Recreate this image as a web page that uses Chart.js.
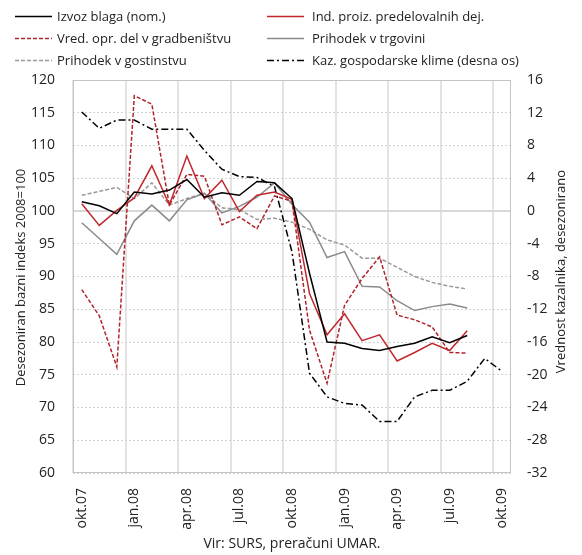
<!DOCTYPE html>
<html>
<head>
<meta charset="utf-8">
<script src="https://cdn.jsdelivr.net/npm/chart.js@4.4.1/dist/chart.umd.min.js"></script>
<style>
  html, body { margin: 0; padding: 0; background: #fff; }
  #wrap { position: relative; width: 582px; height: 555px; font-family: "Open Sans", sans-serif; }
  #c { position: absolute; left: 0; top: 0; }
  .lg { position: absolute; font-size: 13px; color: #222; white-space: nowrap; line-height: 16px; }
  .lg svg { position: absolute; left: 0; top: 2px; }
  .lg span { position: absolute; top: 0; }
</style>
</head>
<body>
<div id="wrap">
  <canvas id="c" width="582" height="555"></canvas>
  <div id="legend"></div>
</div>
<script>
const categories = ['okt.07','nov.07','dec.07','jan.08','feb.08','mar.08','apr.08','maj.08','jun.08','jul.08','avg.08','sep.08','okt.08','nov.08','dec.08','jan.09','feb.09','mar.09','apr.09','maj.09','jun.09','jul.09','avg.09','sep.09','okt.09'];

const izvozBlaga = [101.4,100.8,99.6,102.9,102.6,103.2,104.8,102.1,102.8,102.4,104.5,104.3,101.9,90.5,80.0,79.8,79.0,78.7,79.3,79.8,80.8,79.9,81.0,null,null];
const indProiz = [101.1,97.8,100.1,102.0,106.9,100.9,108.4,101.9,104.7,99.9,102.4,102.9,101.8,87.4,81.1,84.3,80.2,81.1,77.1,78.4,79.8,78.7,81.7,null,null];
const vredGradb = [88.0,84.0,76.2,117.6,116.3,100.9,105.6,105.3,97.9,99.1,97.3,102.3,101.5,81.8,73.7,85.6,89.7,93.0,84.1,83.4,82.3,78.4,78.3,null,null];
const prihTrgovina = [98.2,95.8,93.4,98.5,100.9,98.5,101.7,102.7,99.7,100.7,102.1,104.3,101.0,98.3,92.9,93.8,88.5,88.4,86.3,84.8,85.4,85.8,85.2,null,null];
const prihGostinstvo = [102.4,103.0,103.6,101.9,104.3,100.9,101.9,102.7,100.5,100.2,98.7,98.9,98.3,97.2,95.6,94.8,92.8,92.8,91.4,90.0,89.1,88.5,88.1,null,null];
const kazKlime = [12.1,10.1,11.1,11.1,10.0,10.0,10.0,7.4,5.1,4.2,4.1,3.0,-5.0,-19.8,-22.7,-23.5,-23.7,-25.7,-25.7,-22.7,-21.9,-21.9,-20.8,-18.0,-19.6];

const leftTicks = { min: 60, max: 120, step: 5 };
const rightTicks = { min: -32, max: 16, step: 4 };

const seriesNames = ['Izvoz blaga (nom.)','Ind. proiz. predelovalnih dej.','Vred. opr. del v gradbeništvu','Prihodek v trgovini','Prihodek v gostinstvu','Kaz. gospodarske klime (desna os)'];
const leftTitle = 'Desezoniran bazni indeks 2008=100';
const rightTitle = 'Vrednost kazalnika, desezonirano';
const sourceText = 'Vir: SURS, preračuni UMAR.';

const FONT = '"Open Sans", sans-serif';
const styles = [
  { color: '#000000', dash: [], width: 1.5 },
  { color: '#c0282e', dash: [], width: 1.5 },
  { color: '#b0242b', dash: [4, 2], width: 1.5 },
  { color: '#8a8a8a', dash: [], width: 1.5 },
  { color: '#9a9a9a', dash: [4, 2], width: 1.5 },
  { color: '#000000', dash: [7, 3, 2, 3], width: 1.5 }
];
const seriesData = [izvozBlaga, indProiz, vredGradb, prihTrgovina, prihGostinstvo, kazKlime];

// HTML legend
const legendPos = [
  { x: 15, y: 8 }, { x: 267, y: 8 },
  { x: 15, y: 30 }, { x: 267, y: 30 },
  { x: 15, y: 52 }, { x: 267, y: 52 }
];
const legendOrder = [0, 1, 2, 3, 4, 5];
const lg = document.getElementById('legend');
legendOrder.forEach((si, k) => {
  const p = legendPos[k];
  const st = styles[si];
  const d = document.createElement('div');
  d.className = 'lg';
  d.style.left = p.x + 'px';
  d.style.top = p.y + 'px';
  d.innerHTML = '<svg width="38" height="12"><line x1="0" y1="6.5" x2="37" y2="6.5" stroke="' + st.color +
    '" stroke-width="1.4" ' + (st.dash.length ? 'stroke-dasharray="' + st.dash.join(',') + '"' : '') +
    '/></svg><span style="left:' + (k % 2 === 0 ? 42 : 45) + 'px">' + seriesNames[si] + '</span>';
  lg.appendChild(d);
});

const framePlugin = {
  id: 'framePlugin',
  beforeDatasetsDraw(chart) {
    const { ctx, chartArea: a } = chart;
    ctx.save();
    ctx.strokeStyle = '#c4c4c4';
    ctx.lineWidth = 1;
    ctx.strokeRect(a.left + 0.5, a.top + 0.5, a.right - a.left - 1, a.bottom - a.top - 1);
    ctx.restore();
  },
  afterDraw(chart) {
    const { ctx, chartArea: a } = chart;
    ctx.save();
    ctx.fillStyle = '#222';
    ctx.font = '13px ' + FONT;
    ctx.textAlign = 'center';
    ctx.textBaseline = 'middle';
    const midY = (a.top + a.bottom) / 2;
    ctx.translate(21, midY + 1);
    ctx.rotate(-Math.PI / 2);
    ctx.fillText(leftTitle, 0, 0);
    ctx.restore();
    ctx.save();
    ctx.fillStyle = '#222';
    ctx.font = '13px ' + FONT;
    ctx.textAlign = 'center';
    ctx.textBaseline = 'middle';
    ctx.translate(a.right + 50, midY - 5);
    ctx.rotate(-Math.PI / 2);
    ctx.fillText(rightTitle, 0, 0);
    ctx.restore();
  }
};

const datasets = seriesData.map((arr, i) => ({
  label: seriesNames[i],
  data: arr,
  borderColor: styles[i].color,
  backgroundColor: styles[i].color,
  borderWidth: styles[i].width,
  borderDash: styles[i].dash,
  pointRadius: 0,
  pointHoverRadius: 0,
  tension: 0,
  fill: false,
  yAxisID: i === 5 ? 'y1' : 'y'
}));

new Chart(document.getElementById('c'), {
  type: 'line',
  data: { labels: categories, datasets },
  plugins: [framePlugin],
  options: {
    responsive: false,
    animation: false,
    devicePixelRatio: 1,
    layout: { padding: { top: 80, left: 0, right: 0, bottom: 0 } },
    plugins: { legend: { display: false }, tooltip: { enabled: false } },
    scales: {
      x: {
        type: 'category',
        offset: true,
        afterFit(s) { s.height = 82; },
        grid: {
          offset: true,
          drawTicks: false,
          lineWidth: 2,
          color: ctx => (ctx.index % 3 === 0 ? '#e3e3e3' : 'rgba(0,0,0,0)')
        },
        border: { display: false },
        ticks: {
          autoSkip: false,
          minRotation: 90,
          maxRotation: 90,
          padding: 15,
          color: '#222',
          font: { family: FONT, size: 14 },
          callback(v, i) { return i % 3 === 0 ? categories[i] : ''; }
        },
        title: {
          display: true,
          text: sourceText,
          color: '#222',
          font: { family: FONT, size: 14 },
          padding: { top: 0, bottom: 3 }
        }
      },
      y: {
        position: 'left',
        min: leftTicks.min,
        max: leftTicks.max,
        afterFit(s) { s.width = 73; },
        grid: {
          drawTicks: false,
          color: ctx => (ctx.tick && ctx.tick.value === 100 ? '#d8d8d8' : '#d2d2d2'),
          lineWidth: ctx => (ctx.tick && ctx.tick.value === 100 ? 2 : 1)
        },
        border: {
          display: false,
          dash: ctx => (ctx.tick && ctx.tick.value === 100 ? [] : [2, 2])
        },
        ticks: {
          stepSize: leftTicks.step,
          padding: 18,
          color: '#222',
          font: { family: FONT, size: 14 }
        }
      },
      y1: {
        position: 'right',
        min: rightTicks.min,
        max: rightTicks.max,
        afterFit(s) { s.width = 71; },
        grid: { display: false, drawTicks: false },
        border: { display: false },
        ticks: {
          stepSize: rightTicks.step,
          padding: 16,
          color: '#222',
          font: { family: FONT, size: 14 }
        }
      }
    }
  }
});
</script>
</body>
</html>
